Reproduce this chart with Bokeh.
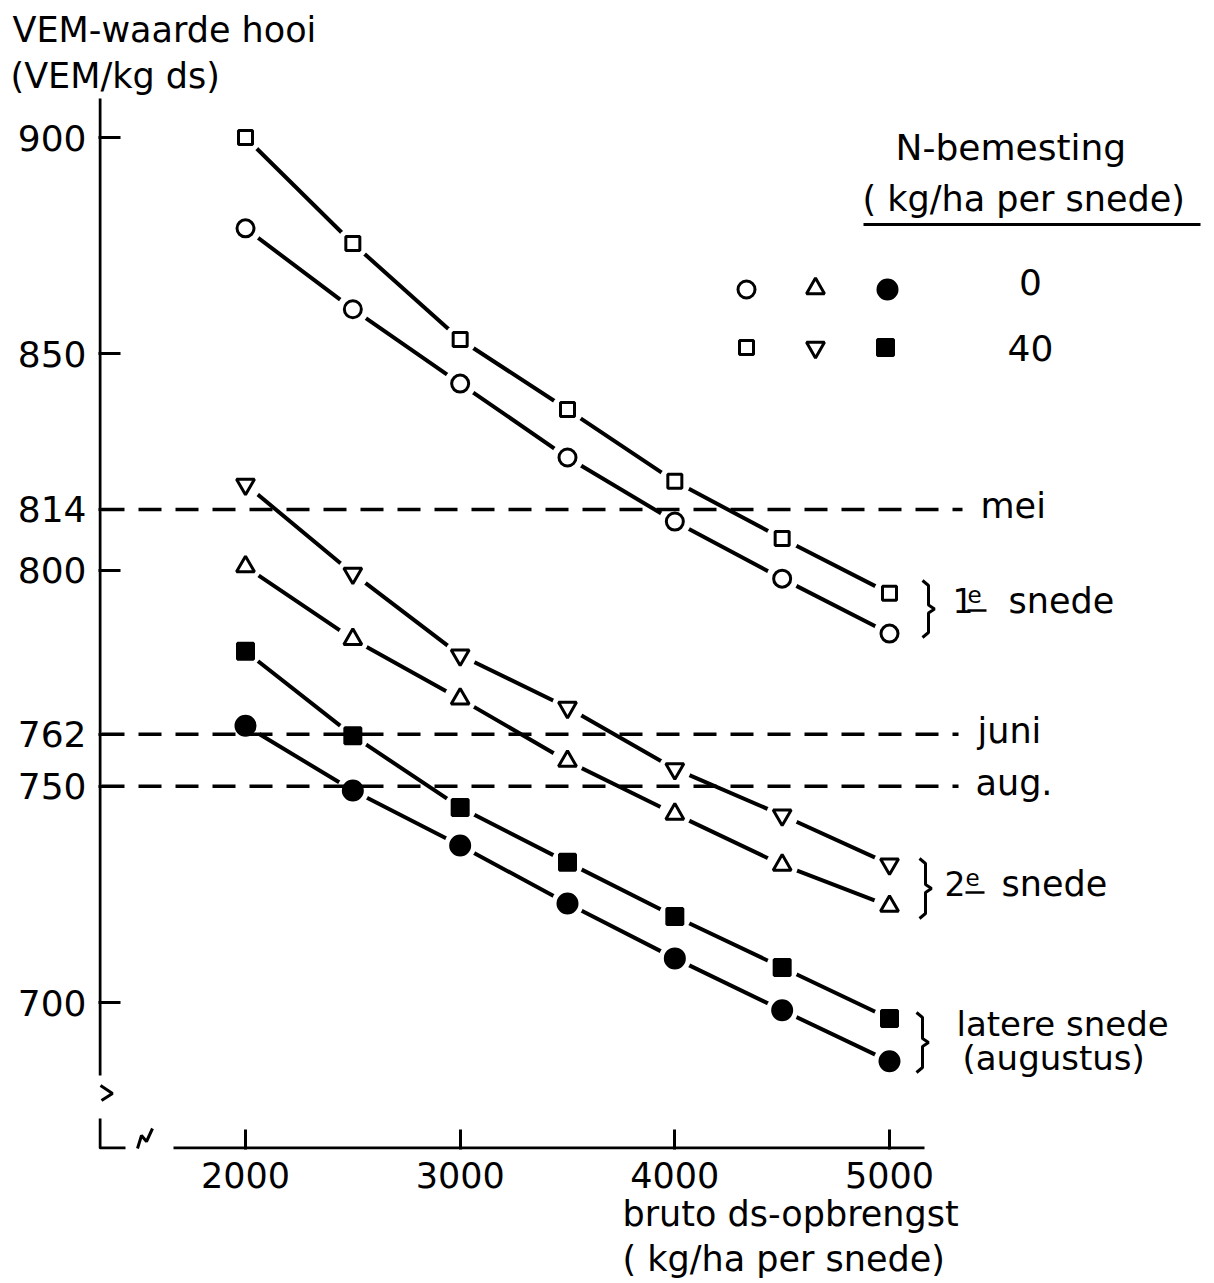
import numpy as np
from bokeh.plotting import figure
from bokeh.models import Range1d, LinearAxis, FixedTicker, Label, Title
from bokeh.embed import file_html
from bokeh.resources import INLINE

# ---------------- data ----------------
x_vals = [2000, 2500, 3000, 3500, 4000, 4500, 5000]
vem_1e_0 = [879.0, 860.3, 843.1, 826.0, 811.2, 798.0, 785.3]
vem_1e_40 = [900.0, 875.5, 853.3, 837.1, 820.5, 807.3, 794.6]
vem_2e_0 = [800.8, 784.0, 770.2, 755.8, 743.6, 731.8, 722.3]
vem_2e_40 = [819.8, 799.2, 780.3, 768.2, 754.0, 743.3, 732.0]
vem_later_0 = [764.0, 749.0, 736.3, 722.9, 710.2, 698.2, 686.4]
vem_later_40 = [781.2, 761.7, 745.1, 732.4, 719.9, 708.1, 696.3]
ref_values = [814, 762, 750]
ref_labels = ["mei", "juni", "aug."]
y_ticks = [700, 750, 762, 800, 814, 850, 900]
x_ticks = [2000, 3000, 4000, 5000]

FONT = "DejaVu Sans"
W, H = 1214, 1283
# pixel geometry of the frame (page coordinates)
FL, FT, FR, FB = 98, 96, W, 1149
SX = (889 - 245) / 3000.0     # px per kg
SY = (1002 - 137) / 200.0     # px per VEM
X0 = 2000 - (245 - FL) / SX
X1 = X0 + (FR - FL) / SX
Y1 = 900 + (137 - FT) / SY
Y0 = Y1 - (FB - FT) / SY


def dx(px):
    return X0 + (px - FL) / SX


def dy(py):
    return Y1 - (py - FT) / SY


p = figure(width=W, height=H, x_range=Range1d(X0, X1), y_range=Range1d(Y0, Y1),
           output_backend="svg", toolbar_location=None,
           x_axis_type=None, y_axis_type=None,
           min_border_left=FL, min_border_right=0, min_border_top=FT,
           min_border_bottom=H - FB)
p.outline_line_color = None
p.background_fill_color = "white"
p.border_fill_color = "white"

# axes (ticks + labels from Bokeh)
yax = LinearAxis(ticker=FixedTicker(ticks=y_ticks))
yax.axis_line_color = None
yax.major_tick_in = 22
yax.major_tick_out = 0
yax.minor_tick_line_color = None
yax.major_tick_line_width = 3
yax.major_tick_line_color = "black"
yax.major_label_text_font = FONT
yax.major_label_text_font_size = "36px"
yax.major_label_text_color = "black"
yax.major_label_standoff = 12
p.add_layout(yax, "left")

xax = LinearAxis(ticker=FixedTicker(ticks=x_ticks))
xax.axis_line_color = None
xax.major_tick_in = 20
xax.major_tick_out = 0
xax.minor_tick_line_color = None
xax.major_tick_line_width = 3
xax.major_tick_line_color = "black"
xax.major_label_text_font = FONT
xax.major_label_text_font_size = "35px"
xax.major_label_text_color = "black"
xax.major_label_standoff = 12
p.add_layout(xax, "below")


# axis titles as Titles (outside the frame)
def title(text, side, offset, size="35px", standoff=0):
    t = Title(text=text, align="left", offset=offset, text_font=FONT, text_font_size=size,
              text_font_style="normal", text_color="black", standoff=standoff)
    p.add_layout(t, side)


title("(VEM/kg ds)", "above", 10 - FL, standoff=2)
title("VEM-waarde hooi", "above", 12 - FL, standoff=5)
title("bruto ds-opbrengst", "below", 622 - FL, size="35px", standoff=3)
title("( kg/ha per snede)", "below", 622 - FL, size="35px", standoff=2)

# hand-drawn axis lines with breaks
AXW = 3
p.line([dx(99.5), dx(99.5)], [dy(98), dy(1075)], line_color="black", line_width=AXW)
p.line([dx(100), dx(112), dx(101)], [dy(1085), dy(1093), dy(1100)], line_color="black", line_width=AXW)
p.line([dx(99.5), dx(99.5), dx(125)], [dy(1118), dy(1147.5), dy(1147.5)], line_color="black", line_width=AXW)
p.line([dx(137), dx(141), dx(146), dx(152)], [dy(1148), dy(1135), dy(1141), dy(1128)], line_color="black", line_width=AXW)
p.line([dx(173), dx(924)], [dy(1147.5), dy(1147.5)], line_color="black", line_width=AXW)

series = [
    (vem_1e_40, "square", "white", 14),
    (vem_1e_0, "circle", "white", 17),
    (vem_2e_40, "inverted_triangle", "white", 18),
    (vem_2e_0, "triangle", "white", 18),
    (vem_later_40, "square", "black", 16),
    (vem_later_0, "circle", "black", 19),
]

# curves
for ys, m, fc, s in series:
    p.line(x_vals, ys, line_color="black", line_width=4)
# white gaps around the points
for ys, m, fc, s in series:
    p.scatter(x_vals, ys, marker="circle", size=32, fill_color="white", line_color=None)

# dashed reference lines
ref_end = [962, 958, 958]
ref_lab_x = [980, 977, 975]
for v, lab, xe, lx in zip(ref_values, ref_labels, ref_end, ref_lab_x):
    p.line([dx(101), dx(xe)], [v, v], line_color="black", line_width=3.5, line_dash="23 14")
    p.add_layout(Label(x=dx(lx), y=v, text=lab, text_font=FONT, text_font_size="35px",
                       text_baseline="middle", text_align="left", text_color="black", y_offset=3))

# markers
for ys, m, fc, s in series:
    p.scatter(x_vals, ys, marker=m, size=s, fill_color=fc, line_color="black", line_width=3)

# legend
leg = [
    (746, 289, "circle", "white", 17), (815, 288, "triangle", "white", 18), (887, 289, "circle", "black", 19),
    (746, 347, "square", "white", 14), (815, 347, "inverted_triangle", "white", 18), (885, 347, "square", "black", 16),
]
for lx, ly, m, fc, s in leg:
    p.scatter([dx(lx)], [dy(ly)], marker=m, size=s, fill_color=fc, line_color="black", line_width=3)


def txt(px, py, t, size="35px", align="left"):
    p.add_layout(Label(x=dx(px), y=dy(py), text=t, text_font=FONT, text_font_size=size,
                       text_baseline="middle", text_align=align, text_color="black"))


txt(895, 147, "N-bemesting", size="36px")
txt(862, 198, "( kg/ha per snede)", size="35px")
p.line([dx(863), dx(1200)], [dy(224), dy(224)], line_color="black", line_width=3)
txt(1030, 281, "0", size="36px", align="center")
txt(1030, 347, "40", size="36px", align="center")


# brackets
def bracket(xb, top, bot):
    mid = (top + bot) / 2.0
    xs = [xb - 6, xb, xb, xb + 6, xb, xb, xb - 6]
    ys = [top, top + 5, mid - 4, mid, mid + 4, bot - 5, bot]
    p.line([dx(v) for v in xs], [dy(v) for v in ys], line_color="black", line_width=3)


bracket(928, 580, 637)
bracket(925, 858, 918)
bracket(922, 1012, 1072)

txt(952, 600, "1", size="33px")
txt(967, 594, "e", size="23px")
p.line([dx(967), dx(986)], [dy(610), dy(610)], line_color="black", line_width=2.5)
txt(1008, 600, "snede", size="35px")

txt(944, 883, "2", size="33px")
txt(965, 877, "e", size="23px")
p.line([dx(965), dx(984)], [dy(892), dy(892)], line_color="black", line_width=2.5)
txt(1001, 883, "snede", size="35px")

txt(956, 1023, "latere snede", size="34px")
txt(962, 1057, "(augustus)", size="34px")

open("out.html", "w").write(file_html(p, INLINE))
